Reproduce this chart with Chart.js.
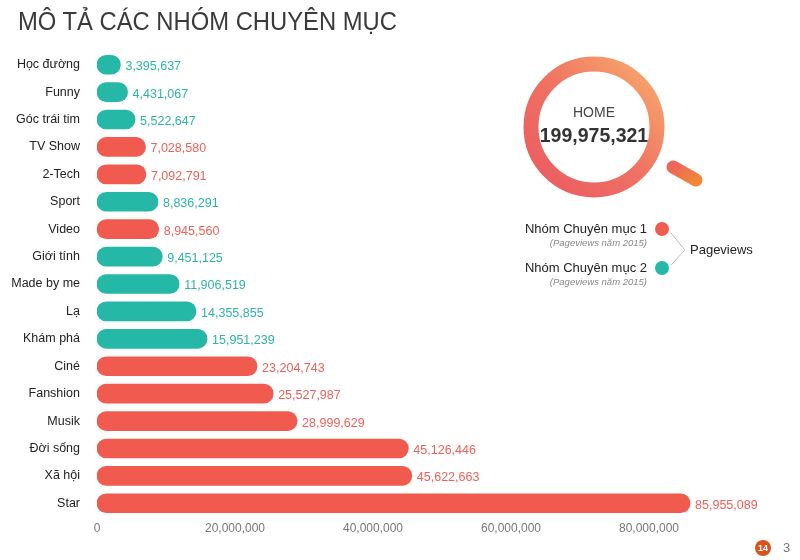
<!DOCTYPE html>
<html lang="vi">
<head>
  <meta charset="UTF-8">
  <title>Mô tả các nhóm chuyên mục</title>
  <script src="https://cdn.jsdelivr.net/npm/chart.js"></script>
  <style>
    body {
      margin: 0;
      background: #fff;
      font-family: "Liberation Sans", Arial, sans-serif;
    }
    .page {
      position: relative;
      width: 800px;
      height: 560px;
      overflow: hidden;
    }
    .chart-box {
      position: absolute;
      left: 0;
      top: 0;
      width: 800px;
      height: 560px;
    }
    h1 {
      position: absolute;
      left: 18px;
      top: 6px;
      margin: 0;
      font-size: 26px;
      font-weight: normal;
      color: #3a3a3a;
      white-space: nowrap;
      transform: scaleX(0.915);
      transform-origin: left top;
    }
    .deco { position: absolute; left: 0; top: 0; }
    .home {
      position: absolute;
      left: 494px;
      width: 200px;
      text-align: center;
      color: #444;
    }
    .legend-name {
      position: absolute;
      right: 153px;
      font-size: 13px;
      color: #222;
      white-space: nowrap;
    }
    .legend-sub {
      position: absolute;
      right: 153px;
      font-size: 9.5px;
      font-style: italic;
      color: #888;
      white-space: nowrap;
    }
    .dot {
      position: absolute;
      width: 14px;
      height: 14px;
      border-radius: 50%;
    }
    .pv {
      position: absolute;
      left: 690px;
      top: 242px;
      font-size: 13px;
      color: #222;
    }
    .logo {
      position: absolute;
      left: 755px;
      top: 540px;
      width: 16px;
      height: 16px;
      border-radius: 50%;
      background: #d9531e;
      color: #fff;
      font-size: 9px;
      font-weight: bold;
      line-height: 17px;
      text-align: center;
    }
    .pagenum {
      position: absolute;
      left: 783px;
      top: 540px;
      font-size: 13px;
      color: #777;
    }
  </style>
</head>
<body>
<div class="page">
  <div class="chart-box"><canvas id="catChart"></canvas></div>

  <h1>MÔ TẢ CÁC NHÓM CHUYÊN MỤC</h1>

  <svg class="deco" width="800" height="560">
    <defs>
      <linearGradient id="ringGrad" x1="0" y1="1" x2="1" y2="0">
        <stop offset="0" stop-color="#ea5a60"/>
        <stop offset="0.5" stop-color="#ef7263"/>
        <stop offset="1" stop-color="#f8ac6c"/>
      </linearGradient>
      <linearGradient id="handleGrad" x1="0" y1="0" x2="1" y2="1">
        <stop offset="0" stop-color="#ee6559"/>
        <stop offset="1" stop-color="#f0873a"/>
      </linearGradient>
    </defs>
    <circle cx="594" cy="127" r="63" fill="none" stroke="url(#ringGrad)" stroke-width="15"/>
    <line x1="673" y1="167" x2="696" y2="180" stroke="url(#handleGrad)" stroke-width="13" stroke-linecap="round"/>
    <polyline points="671,233 685,250 671,265" fill="none" stroke="#aaa" stroke-width="0.8"/>
  </svg>

  <div class="home" style="top:104px;font-size:14px;">HOME</div>
  <div class="home" style="top:124px;font-size:19.5px;font-weight:bold;color:#333;">199,975,321</div>

  <div class="legend-name" style="top:221px;">Nhóm Chuyên mục 1</div>
  <div class="legend-sub" style="top:237px;">(Pageviews năm 2015)</div>
  <div class="dot" style="left:655px;top:222px;background:#f15b4f;"></div>
  <div class="legend-name" style="top:260px;">Nhóm Chuyên mục 2</div>
  <div class="legend-sub" style="top:276px;">(Pageviews năm 2015)</div>
  <div class="dot" style="left:655px;top:261px;background:#26b8a6;"></div>
  <div class="pv">Pageviews</div>

  <div class="logo">14</div>
  <div class="pagenum">3</div>
</div>

<script>
  const categories = ['Học đường', 'Funny', 'Góc trái tim', 'TV Show', '2-Tech', 'Sport', 'Video', 'Giới tính',
    'Made by me', 'Lạ', 'Khám phá', 'Ciné', 'Fanshion', 'Musik', 'Đời sống', 'Xã hội', 'Star'];
  const pageviews = [3395637, 4431067, 5522647, 7028580, 7092791, 8836291, 8945560, 9451125,
    11906519, 14355855, 15951239, 23204743, 25527987, 28999629, 45126446, 45622663, 85955089];
  // 1 = Nhóm Chuyên mục 1 (red), 2 = Nhóm Chuyên mục 2 (teal)
  const groups = [2, 2, 2, 1, 1, 2, 1, 2, 2, 2, 2, 1, 1, 1, 1, 1, 1];
  const xTicks = [0, 20000000, 40000000, 60000000, 80000000];

  const barColor = { 1: '#f15b4f', 2: '#26b8a6' };
  const textColor = { 1: '#ef6158', 2: '#2cb5a5' };

  const fmt = n => n.toLocaleString('en-US');

  // value labels at the end of each bar
  const valueLabels = {
    id: 'valueLabels',
    afterDatasetsDraw(chart) {
      const ctx = chart.ctx;
      const meta = chart.getDatasetMeta(0);
      ctx.save();
      ctx.font = '12.5px "Liberation Sans", Arial, sans-serif';
      ctx.textBaseline = 'middle';
      ctx.textAlign = 'left';
      meta.data.forEach((bar, i) => {
        ctx.fillStyle = textColor[groups[i]];
        ctx.fillText(fmt(pageviews[i]), bar.x + 5, bar.y + 2);
      });
      ctx.restore();
    }
  };

  new Chart(document.getElementById('catChart'), {
    type: 'bar',
    data: {
      labels: categories,
      datasets: [{
        data: pageviews,
        backgroundColor: groups.map(g => barColor[g]),
        borderRadius: 10,
        borderSkipped: false,
        barThickness: 19
      }]
    },
    plugins: [valueLabels],
    options: {
      indexAxis: 'y',
      responsive: true,
      maintainAspectRatio: false,
      animation: false,
      layout: { padding: { top: 51, right: 82, bottom: 19, left: 0 } },
      plugins: {
        legend: { display: false },
        tooltip: { enabled: false }
      },
      scales: {
        x: {
          min: 0,
          max: 90000000,
          grid: { display: false, drawTicks: false },
          border: { display: false },
          afterFit: s => { s.height = 24; },
          afterBuildTicks: s => { s.ticks = xTicks.map(v => ({ value: v })); },
          ticks: {
            padding: 4,
            color: '#777',
            font: { size: 12, family: '"Liberation Sans", Arial, sans-serif' },
            callback: v => fmt(v)
          }
        },
        y: {
          grid: { display: false, drawTicks: false },
          border: { display: false },
          afterFit: s => { s.width = 97; },
          ticks: {
            padding: 17,
            color: '#222',
            font: { size: 12.5, family: '"Liberation Sans", Arial, sans-serif' }
          }
        }
      }
    }
  });
</script>
</body>
</html>
